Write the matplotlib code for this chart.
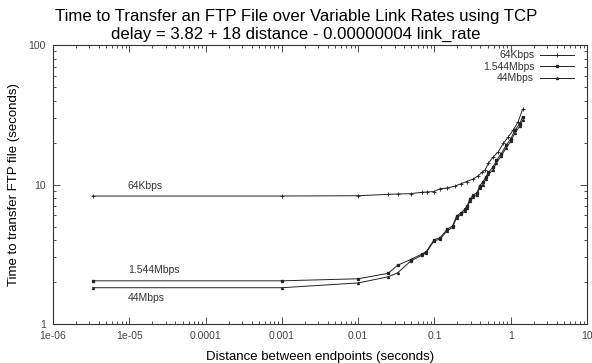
import matplotlib
matplotlib.use("Agg")
from matplotlib import pyplot as plt
from matplotlib.ticker import FixedLocator, FixedFormatter, LogLocator, NullFormatter

plt.rcParams['font.family'] = ['Liberation Sans', 'DejaVu Sans']

# distance (s) / transfer time (s)
dist_64k = [3.3e-6, 0.001, 0.01, 0.0248, 0.033, 0.049, 0.069, 0.081, 0.099, 0.118,
            0.147, 0.186, 0.22, 0.264, 0.323, 0.375, 0.42, 0.46, 0.51, 0.59,
            0.69, 0.80, 0.93, 1.08, 1.25, 1.43]
time_64k = [8.27, 8.27, 8.31, 8.5, 8.55, 8.6, 8.8, 8.85, 8.9, 9.33,
            9.44, 9.75, 10.1, 10.5, 10.95, 11.56, 12.2, 12.7, 14.2, 15.8,
            17.2, 19.7, 22.0, 24.6, 28.2, 34.6]

dist_fast = [3.3e-6, 0.001, 0.01, 0.0248, 0.033, 0.049, 0.069, 0.078, 0.099, 0.118,
             0.147, 0.173, 0.195, 0.226, 0.25, 0.27, 0.29, 0.32, 0.36, 0.39,
             0.43, 0.47, 0.51, 0.59, 0.65, 0.75, 0.87, 1.0, 1.13, 1.31, 1.43]
time_1544 = [2.04, 2.04, 2.11, 2.31, 2.64, 2.9, 3.18, 3.3, 4.02, 4.15,
             4.78, 5.05, 5.95, 6.3, 6.65, 7.05, 7.85, 8.4, 8.7, 9.8,
             10.4, 11.3, 12.2, 13.4, 14.9, 16.6, 19.1, 21.2, 24.4, 27.3, 30.5]
time_44m = [1.82, 1.82, 1.97, 2.18, 2.33, 2.83, 3.12, 3.24, 3.95, 4.05,
            4.66, 4.92, 5.8, 6.1, 6.45, 6.8, 7.6, 8.1, 8.4, 9.5,
            10.0, 10.9, 11.8, 12.8, 14.3, 16.0, 18.3, 20.4, 23.4, 26.1, 29.0]

x_ticks = [1e-6, 1e-5, 1e-4, 1e-3, 1e-2, 1e-1, 1, 10]
x_tick_labels = ["1e-06", "1e-05", "0.0001", "0.001", "0.01", "0.1", "1", "10"]
y_ticks = [1, 10, 100]
y_tick_labels = ["1", "10", "100"]

fig = plt.figure(figsize=(5.92, 3.63), dpi=100)
ax = fig.add_axes([0.0895, 0.1074, 0.9021, 0.7686])

col = '#222222'
ax.plot(dist_64k, time_64k, color=col, lw=0.7, marker='+', ms=2.5, mew=0.6,
        label='64Kbps')
ax.plot(dist_fast, time_1544, color=col, lw=0.7, marker='s', ms=1.4,
        label='1.544Mbps')
ax.plot(dist_fast, time_44m, color=col, lw=0.7, marker='^', ms=1.4,
        label='44Mbps')

ax.set_xscale('log')
ax.set_yscale('log')
ax.set_xlim(1e-6, 10)
ax.set_ylim(1, 100)

ax.xaxis.set_major_locator(FixedLocator(x_ticks))
ax.xaxis.set_major_formatter(FixedFormatter(x_tick_labels))
ax.yaxis.set_major_locator(FixedLocator(y_ticks))
ax.yaxis.set_major_formatter(FixedFormatter(y_tick_labels))
ax.xaxis.set_minor_locator(LogLocator(base=10, subs=range(2, 10), numticks=20))
ax.yaxis.set_minor_locator(LogLocator(base=10, subs=range(2, 10), numticks=20))
ax.xaxis.set_minor_formatter(NullFormatter())
ax.yaxis.set_minor_formatter(NullFormatter())

ax.tick_params(which='both', direction='in', top=True, right=True,
               labelsize=7.5, labelcolor='#444444', color='#333333', width=0.6)
ax.tick_params(which='major', length=5, pad=5)
ax.tick_params(which='minor', length=2.5)
for s in ax.spines.values():
    s.set_linewidth(0.8)
    s.set_color('#333333')

ax.set_xlabel('Distance between endpoints (seconds)', fontsize=9.5, labelpad=7)
ax.set_ylabel('Time to transfer FTP file (seconds)', fontsize=9.5, labelpad=6)
fig.suptitle('Time to Transfer an FTP File over Variable Link Rates using TCP\n'
             'delay = 3.82 + 18 distance - 0.00000004 link_rate',
             fontsize=12.1, y=0.975, linespacing=1.2)

ax.text(9.6e-6, 9.75, '64Kbps', fontsize=7.5, color='#333333', ha='left', va='center')
ax.text(9.6e-6, 2.45, '1.544Mbps', fontsize=7.5, color='#333333', ha='left', va='center')
ax.text(9.6e-6, 1.53, '44Mbps', fontsize=7.5, color='#333333', ha='left', va='center')

leg = ax.legend(loc='upper right', frameon=False, fontsize=7.5, markerfirst=False,
                handlelength=3.2, borderaxespad=0.3, labelspacing=0.15,
                handletextpad=0.6, borderpad=0.2)
leg.set_bbox_to_anchor((0.985, 1.0), transform=ax.transAxes)
for t in leg.get_texts():
    t.set_ha('right')
    t.set_color('#333333')

fig.savefig('out.png', dpi=100)
